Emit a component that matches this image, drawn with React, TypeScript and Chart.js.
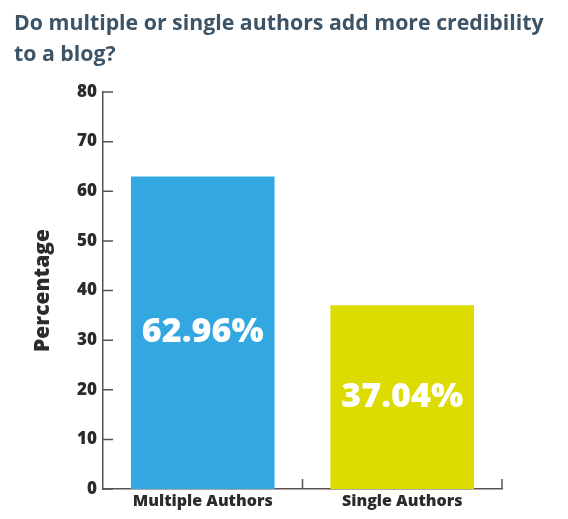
import { useEffect, useRef } from 'react';
import { Chart, ChartConfiguration, registerables } from 'chart.js';

Chart.register(...registerables);

const titleLines = ['Do multiple or single authors add more credibility', 'to a blog?'];
const categories = ['Multiple Authors', 'Single Authors'];
const percentages = [62.96, 37.04];
const barColors = ['#33a8e0', '#dcdc00'];
const yTitle = 'Percentage';

const FONT = '"Open Sans", Lato, sans-serif';
const AXIS_COLOR = '#5a5252';

// short tick marks pointing into the plot area
const innerTicks = {
  id: 'innerTicks',
  afterDraw(chart: Chart) {
    const { ctx, chartArea, scales } = chart;
    const x = scales.x;
    const y = scales.y;
    ctx.save();
    ctx.strokeStyle = AXIS_COLOR;
    ctx.lineWidth = 1.5;
    ctx.beginPath();
    y.ticks.forEach((t) => {
      const py = y.getPixelForValue(t.value);
      ctx.moveTo(chartArea.left, py);
      ctx.lineTo(chartArea.left + 10, py);
    });
    categories.forEach((_, i) => {
      const px = x.getPixelForValue(i + 0.5);
      ctx.moveTo(px, chartArea.bottom);
      ctx.lineTo(px, chartArea.bottom - 10);
    });
    ctx.stroke();
    ctx.restore();
  },
};

// percentage text in the middle of each bar
const barLabels = {
  id: 'barLabels',
  afterDatasetsDraw(chart: Chart) {
    const { ctx } = chart;
    const meta = chart.getDatasetMeta(0);
    ctx.save();
    ctx.fillStyle = '#ffffff';
    ctx.font = `800 34px ${FONT}`;
    ctx.textAlign = 'center';
    ctx.textBaseline = 'middle';
    meta.data.forEach((bar: any, i) => {
      const cy = (bar.y + bar.base) / 2;
      ctx.fillText(`${percentages[i].toFixed(2)}%`, bar.x, cy);
    });
    ctx.restore();
  },
};

export default function App() {
  const canvasRef = useRef<HTMLCanvasElement>(null);
  const chartInstance = useRef<Chart | null>(null);

  useEffect(() => {
    if (!canvasRef.current) return;
    if (chartInstance.current) chartInstance.current.destroy();

    const config: ChartConfiguration = {
      type: 'bar',
      data: {
        labels: categories,
        datasets: [
          {
            data: percentages,
            backgroundColor: barColors,
            borderWidth: 0,
            barPercentage: 0.72,
            categoryPercentage: 1,
          },
        ],
      },
      options: {
        responsive: true,
        maintainAspectRatio: false,
        animation: false,
        layout: { padding: { left: 14, right: 0, top: 0, bottom: 0 } },
        plugins: {
          legend: { display: false },
          tooltip: { enabled: false },
          title: {
            display: true,
            text: titleLines,
            align: 'start',
            color: '#3d5366',
            font: { family: FONT, size: 21.3, weight: 'bold', lineHeight: 31 / 21.3 },
            padding: { top: 8, bottom: 22 },
          },
        },
        scales: {
          x: {
            grid: { display: false, drawTicks: false },
            border: { display: true, color: AXIS_COLOR, width: 1.5 },
            ticks: {
              color: '#2b2b2b',
              font: { family: FONT, size: 16, weight: 800 },
              padding: 3,
            },
            afterFit(scale) {
              scale.height = 30;
            },
          },
          y: {
            min: 0,
            max: 80,
            grid: { display: false, drawTicks: false },
            border: { display: true, color: AXIS_COLOR, width: 1.5 },
            ticks: {
              stepSize: 10,
              color: '#2b2b2b',
              font: { family: FONT, size: 17, weight: 800 },
              padding: 6,
            },
            title: {
              display: true,
              text: yTitle,
              color: '#2b2b2b',
              font: { family: FONT, size: 21, weight: 800, lineHeight: 1.2 },
              padding: { top: 16, bottom: 0 },
            },
            afterFit(scale) {
              scale.width = 89;
            },
          },
          // empty right-hand axis that only reserves the white space right of the plot
          spacer: {
            type: 'linear',
            position: 'right',
            min: 0,
            max: 80,
            grid: { display: false, drawTicks: false },
            border: { display: false },
            ticks: { display: false },
            afterFit(scale) {
              scale.width = 66;
            },
          },
        },
      },
      plugins: [innerTicks, barLabels],
    };

    chartInstance.current = new Chart(canvasRef.current, config);

    return () => {
      if (chartInstance.current) {
        chartInstance.current.destroy();
        chartInstance.current = null;
      }
    };
  }, []);

  return (
    <div style={{ position: 'fixed', left: 0, top: 0, width: 568, height: 519, background: '#ffffff' }}>
      <canvas ref={canvasRef}></canvas>
    </div>
  );
}
